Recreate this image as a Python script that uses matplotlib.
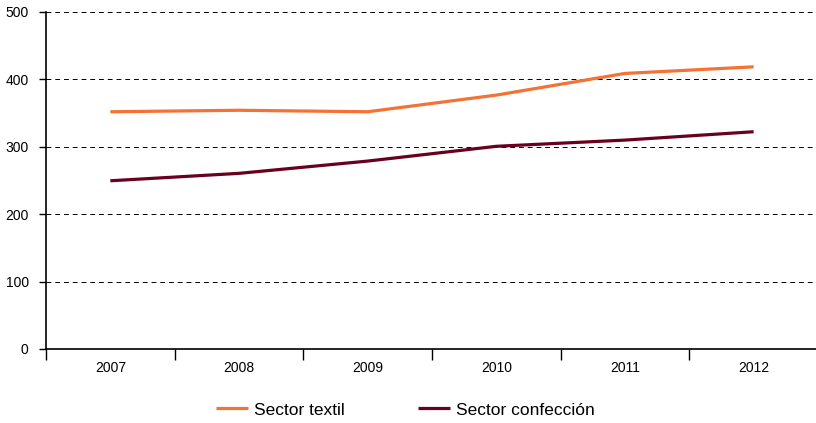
import matplotlib.pyplot as plt
import numpy as np

plt.rcParams['font.family'] = ['Liberation Sans', 'DejaVu Sans']

# Años y series
anios = ['2007', '2008', '2009', '2010', '2011', '2012']
textil = [351.6, 353.8, 351.6, 376.3, 408.4, 418.2]
confeccion = [249.3, 260.3, 278.5, 300.4, 309.6, 322.0]
y_ticks = [0, 100, 200, 300, 400, 500]

fig = plt.figure(figsize=(8.16, 4.23), dpi=100)
ax = fig.add_axes([0.0564, 0.175, 0.946, 0.7975])

x = np.arange(len(anios))
ax.plot(x, textil, color='#F47234', lw=2.3, label='Sector textil', solid_capstyle='butt')
ax.plot(x, confeccion, color='#6A0020', lw=2.3, label='Sector confección', solid_capstyle='butt')

ax.set_xlim(-0.5, len(anios) - 0.5)
ax.set_ylim(0, 500)
ax.set_yticks(y_ticks)
ax.tick_params(axis='y', length=5, width=1, labelsize=10, pad=7.5)

# etiquetas centradas, marcas en los límites de cada año
ax.set_xticks(x)
ax.set_xticklabels(anios)
ax.set_xticks(np.arange(len(anios) + 1) - 0.5, minor=True)
ax.tick_params(axis='x', which='major', length=0, labelsize=10, pad=9)
ax.tick_params(axis='x', which='minor', length=8, width=1, direction='out')

for v in y_ticks[1:]:
    ax.axhline(v, color='black', lw=0.7, ls=(0, (5, 4)), zorder=0)

for s in ['top', 'right']:
    ax.spines[s].set_visible(False)
ax.spines['left'].set_linewidth(1.2)
ax.spines['bottom'].set_linewidth(1.2)

fig.legend(loc='center', bbox_to_anchor=(405.5 / 816, 1 - 410 / 423), ncol=2,
           frameon=False, fontsize=12.5, handlelength=1.85, handletextpad=0.35,
           columnspacing=4.2)

fig.savefig('out.png', dpi=100)
